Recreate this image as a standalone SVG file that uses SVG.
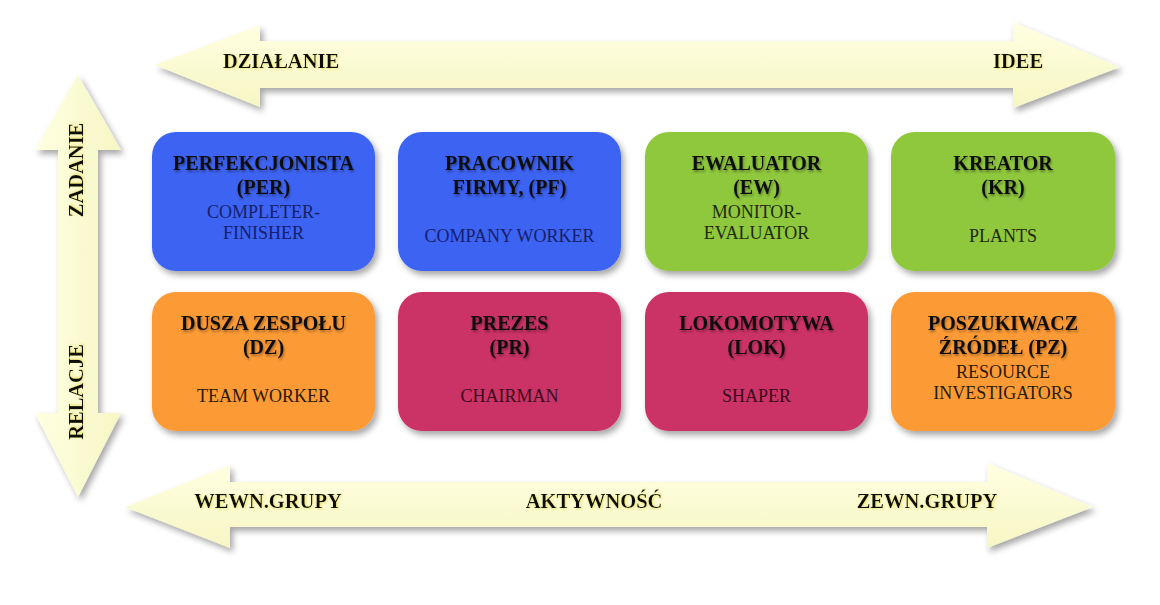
<svg xmlns="http://www.w3.org/2000/svg" width="1160" height="605" viewBox="0 0 1160 605">
  <defs>
    <linearGradient id="arrowFill" x1="0" y1="0" x2="0" y2="1">
      <stop offset="0" stop-color="#FFFFE2"/>
      <stop offset="1" stop-color="#F6F6C4"/>
    </linearGradient>
    <linearGradient id="arrowFillV" x1="0" y1="0" x2="1" y2="0">
      <stop offset="0" stop-color="#FFFFE2"/>
      <stop offset="1" stop-color="#F6F6C4"/>
    </linearGradient>
    <filter id="shadow" x="-10%" y="-20%" width="130%" height="150%">
      <feDropShadow dx="3" dy="4" stdDeviation="3" flood-color="#000" flood-opacity="0.35"/>
    </filter>
    <filter id="glow" x="-10%" y="-40%" width="120%" height="180%">
      <feGaussianBlur in="SourceAlpha" stdDeviation="1.8" result="b"/>
      <feFlood flood-color="#E6DC50" flood-opacity="0.8"/>
      <feComposite in2="b" operator="in" result="g"/>
      <feOffset in="g" dx="1" dy="1" result="go"/>
      <feMerge>
        <feMergeNode in="go"/>
        <feMergeNode in="SourceGraphic"/>
      </feMerge>
    </filter>
    <filter id="soft" x="-10%" y="-40%" width="120%" height="180%">
      <feGaussianBlur in="SourceAlpha" stdDeviation="1.2" result="b"/>
      <feFlood flood-color="#000" flood-opacity="0.35"/>
      <feComposite in2="b" operator="in" result="g"/>
      <feOffset in="g" dx="1" dy="1.5" result="go"/>
      <feMerge>
        <feMergeNode in="go"/>
        <feMergeNode in="SourceGraphic"/>
      </feMerge>
    </filter>
  </defs>
  <style>
    .arrow { fill: url(#arrowFill); filter: url(#shadow); }
    .arrowV { fill: url(#arrowFillV); filter: url(#shadow); }
    .box { filter: url(#shadow); }
    .blue { fill: #3D63F3; }
    .green { fill: #8FC73E; }
    .magenta { fill: #CB3366; }
    .orange { fill: #FC9A36; }
    .title { font-family: "Liberation Serif", "Times New Roman", serif; font-weight: bold; font-size: 20px; fill: #0d0d0d; text-anchor: middle; filter: url(#soft); }
    .label { font-family: "Liberation Serif", "Times New Roman", serif; font-weight: bold; font-size: 20.5px; fill: #111; text-anchor: middle; filter: url(#glow); }
    .sub { font-family: "Liberation Serif", "Times New Roman", serif; font-size: 18px; text-anchor: middle; }
    .subBlue { fill: #15206A; }
    .subGreen { fill: #1E2A10; }
    .subOrange { fill: #2A1A08; }
    .subMagenta { fill: #3A0B1C; }
  </style>

  <g id="connectors">
    <polygon id="axis-top" class="arrow" points="155,65 260,25 260,41 1013,41 1013,22 1120,67 1013,108 1013,88 260,88 260,107"/>
    <polygon id="axis-bottom" class="arrow" points="125,507 230,465 230,482 987,482 987,463 1093,507 987,548 987,527 230,527 230,548"/>
    <polygon id="axis-left" class="arrowV" points="78,75 121,150 98,150 98,413 121,413 78,497 35,413 58,413 58,150 35,150"/>
  </g>

  <g id="axis-labels">
    <text class="label" x="281" y="68">DZIAŁANIE</text>
    <text class="label" x="1018" y="68">IDEE</text>
    <text class="label" x="268" y="508">WEWN.GRUPY</text>
    <text class="label" x="594" y="508">AKTYWNOŚĆ</text>
    <text class="label" x="927" y="508">ZEWN.GRUPY</text>
    <text class="label" transform="translate(83,170) rotate(-90)">ZADANIE</text>
    <text class="label" transform="translate(83,392) rotate(-90)">RELACJE</text>
  </g>

  <g id="node-per">
    <rect class="box blue" x="152" y="132" width="223" height="139" rx="24"/>
    <text class="title" x="263.5" y="170">PERFEKCJONISTA</text>
    <text class="title" x="263.5" y="194">(PER)</text>
    <text class="sub subBlue" x="263.5" y="218">COMPLETER-</text>
    <text class="sub subBlue" x="263.5" y="239">FINISHER</text>
  </g>

  <g id="node-pf">
    <rect class="box blue" x="398" y="132" width="223" height="139" rx="24"/>
    <text class="title" x="509.5" y="170">PRACOWNIK</text>
    <text class="title" x="509.5" y="194">FIRMY, (PF)</text>
    <text class="sub subBlue" x="509.5" y="242">COMPANY WORKER</text>
  </g>

  <g id="node-ew">
    <rect class="box green" x="645" y="132" width="223" height="139" rx="24"/>
    <text class="title" x="756.5" y="170">EWALUATOR</text>
    <text class="title" x="756.5" y="194">(EW)</text>
    <text class="sub subGreen" x="756.5" y="218">MONITOR-</text>
    <text class="sub subGreen" x="756.5" y="239">EVALUATOR</text>
  </g>

  <g id="node-kr">
    <rect class="box green" x="891" y="132" width="224" height="139" rx="24"/>
    <text class="title" x="1003" y="170">KREATOR</text>
    <text class="title" x="1003" y="194">(KR)</text>
    <text class="sub subGreen" x="1003" y="242">PLANTS</text>
  </g>

  <g id="node-dz">
    <rect class="box orange" x="152" y="292" width="223" height="139" rx="24"/>
    <text class="title" x="263.5" y="330">DUSZA ZESPOŁU</text>
    <text class="title" x="263.5" y="354">(DZ)</text>
    <text class="sub subOrange" x="263.5" y="402">TEAM WORKER</text>
  </g>

  <g id="node-pr">
    <rect class="box magenta" x="398" y="292" width="223" height="139" rx="24"/>
    <text class="title" x="509.5" y="330">PREZES</text>
    <text class="title" x="509.5" y="354">(PR)</text>
    <text class="sub subMagenta" x="509.5" y="402">CHAIRMAN</text>
  </g>

  <g id="node-lok">
    <rect class="box magenta" x="645" y="292" width="223" height="139" rx="24"/>
    <text class="title" x="756.5" y="330">LOKOMOTYWA</text>
    <text class="title" x="756.5" y="354">(LOK)</text>
    <text class="sub subMagenta" x="756.5" y="402">SHAPER</text>
  </g>

  <g id="node-pz">
    <rect class="box orange" x="891" y="292" width="224" height="139" rx="24"/>
    <text class="title" x="1003" y="330">POSZUKIWACZ</text>
    <text class="title" x="1003" y="354">ŹRÓDEŁ (PZ)</text>
    <text class="sub subOrange" x="1003" y="378">RESOURCE</text>
    <text class="sub subOrange" x="1003" y="399">INVESTIGATORS</text>
  </g>
</svg>
